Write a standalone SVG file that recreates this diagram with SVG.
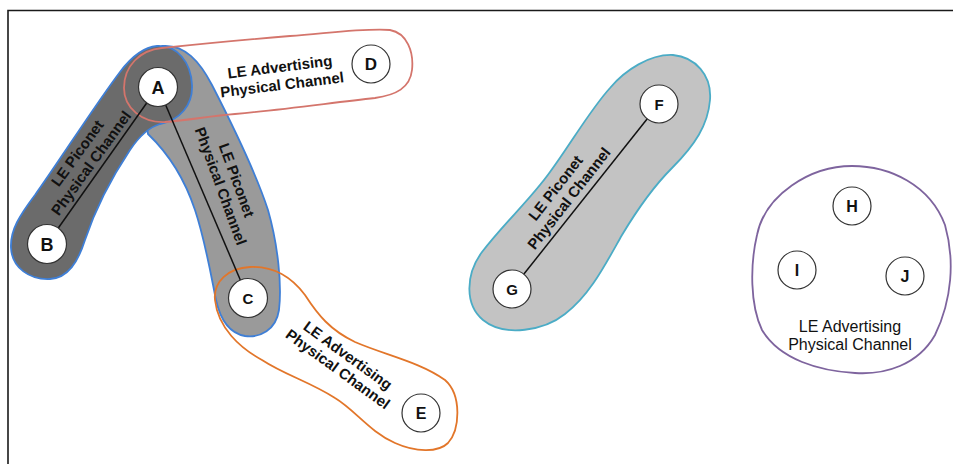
<svg xmlns="http://www.w3.org/2000/svg" width="953" height="464" viewBox="0 0 953 464">
<style>
.lbl{font-family:"Liberation Sans",Arial,sans-serif;font-weight:bold;fill:#111;text-anchor:middle}
.ch{font-family:"Liberation Sans",Arial,sans-serif;font-weight:bold;font-size:15px;fill:#111;text-anchor:middle}
.chr{font-family:"Liberation Sans",Arial,sans-serif;font-size:16px;fill:#111;text-anchor:middle}
.node{fill:#fff;stroke:#333;stroke-width:1.2}
.link{stroke:#111;stroke-width:1.5;fill:none}
</style>
<rect x="0" y="0" width="953" height="464" fill="#fff"/>
<path d="M8,464 L8,10.5 L953,10.5" fill="none" stroke="#1a1a1a" stroke-width="1.6"/>

<g id="channel-AC">
<path d="M162,46 C185,44 200,62 212,85 C230,120 255,170 268,210 C278,245 282,285 279,310 C276,330 260,338 245,336 C228,333 220,318 216,300 C210,270 205,240 195,210 C185,180 170,155 148,134 L140,80 Z" fill="#9a9a9a" stroke="#3f7fd6" stroke-width="1.8"/>
</g>
<g id="channel-AB">
<path d="M157,46 C177,45 191,62 192,85 C193,105 180,120 160,124 C150,127 140,135 130,150 C110,180 95,210 85,240 C78,262 68,278 50,279 C30,280 12,268 11,248 C10,230 20,215 35,195 C60,160 95,105 120,72 C132,56 145,47 157,46 Z" fill="#6b6b6b" stroke="#3f7fd6" stroke-width="1.8"/>
</g>
<g id="channel-FG">
<path d="M673,55 C695,57 712,75 710,100 C708,125 695,145 672,168 C655,185 640,205 622,235 C605,265 590,295 565,314 C545,330 505,338 483,320 C465,305 465,275 482,252 C505,222 530,200 550,172 C570,145 590,110 610,88 C625,70 650,54 673,55 Z" fill="#c3c3c3" stroke="#4bacc6" stroke-width="1.8"/>
</g>
<g id="channel-AD">
<path d="M124,88 C124,66 140,50 162,48 C200,44 240,40 290,36 C330,33 365,28 390,30 C407,33 414,52 412,70 C410,88 396,95 375,98 C330,103 280,110 235,114 C210,116 190,120 165,122 C142,123 124,108 124,88 Z" fill="none" stroke="#d4756c" stroke-width="1.8"/>
</g>
<g id="channel-CE">
<path d="M215,300 C213,282 228,268 250,267 C272,266 290,275 305,295 C318,315 330,330 355,342 C385,355 420,362 445,380 C462,395 460,430 448,443 C438,453 415,452 395,443 C370,432 355,410 335,398 C310,382 285,375 262,360 C240,348 218,328 215,300 Z" fill="none" stroke="#e2762a" stroke-width="1.8"/>
</g>
<g id="channel-HIJ">
<path d="M852,166 C890,166 930,185 945,225 C955,260 952,300 935,335 C918,365 885,375 855,373 C820,371 780,360 762,330 C750,305 750,265 757,235 C765,195 810,166 852,166 Z" fill="none" stroke="#7e649e" stroke-width="1.8"/>
</g>

<g id="connectors">
<line class="link" x1="158" y1="87" x2="47" y2="244"/>
<line class="link" x1="158" y1="87" x2="248" y2="298"/>
<line class="link" x1="659" y1="104" x2="512" y2="289"/>
</g>

<g id="labels">
<text class="ch" transform="translate(84,158) rotate(-54)"><tspan x="0" y="-3">LE Piconet</tspan><tspan x="0" y="14">Physical Channel</tspan></text>
<text class="ch" transform="translate(229,183) rotate(70)"><tspan x="0" y="-3">LE Piconet</tspan><tspan x="0" y="14">Physical Channel</tspan></text>
<text class="ch" transform="translate(562,193) rotate(-52)"><tspan x="0" y="-3">LE Piconet</tspan><tspan x="0" y="14">Physical Channel</tspan></text>
<text class="ch" transform="translate(281,76) rotate(-7)"><tspan x="0" y="-4">LE Advertising</tspan><tspan x="0" y="14">Physical Channel</tspan></text>
<text class="ch" transform="translate(343,362) rotate(36)"><tspan x="0" y="-3">LE Advertising</tspan><tspan x="0" y="14">Physical Channel</tspan></text>
<text class="chr" x="850" y="332">LE Advertising</text>
<text class="chr" x="850" y="350">Physical Channel</text>
</g>

<g id="A"><circle class="node" cx="158" cy="87" r="19.5"/><text class="lbl" x="158" y="93.5" font-size="18">A</text></g>
<g id="B"><circle class="node" cx="47" cy="244" r="19.5"/><text class="lbl" x="47" y="250.5" font-size="18">B</text></g>
<g id="C"><circle class="node" cx="248" cy="298" r="19.5"/><text class="lbl" x="248" y="303.5" font-size="15">C</text></g>
<g id="D"><circle class="node" cx="371" cy="64" r="19"/><text class="lbl" x="371" y="70" font-size="17">D</text></g>
<g id="E"><circle class="node" cx="421" cy="413" r="19"/><text class="lbl" x="421" y="419" font-size="16">E</text></g>
<g id="F"><circle class="node" cx="659" cy="104" r="19"/><text class="lbl" x="659" y="109.5" font-size="15">F</text></g>
<g id="G"><circle class="node" cx="512" cy="289" r="19"/><text class="lbl" x="512" y="294.5" font-size="15">G</text></g>
<g id="H"><circle class="node" cx="852" cy="206" r="19"/><text class="lbl" x="852" y="212" font-size="16">H</text></g>
<g id="I"><circle class="node" cx="797" cy="270" r="19"/><text class="lbl" x="797" y="276" font-size="16">I</text></g>
<g id="J"><circle class="node" cx="905" cy="276" r="19"/><text class="lbl" x="905" y="282" font-size="16">J</text></g>
</svg>
